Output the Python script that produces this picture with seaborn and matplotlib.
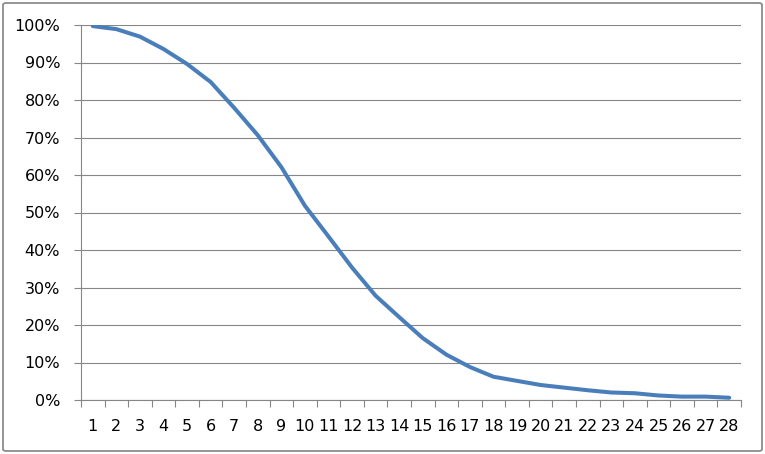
import matplotlib
matplotlib.use("Agg")
import matplotlib.pyplot as plt
from matplotlib.patches import FancyBboxPatch
from matplotlib.ticker import FixedLocator, PercentFormatter
import seaborn as sns
import pandas as pd

# values (share in %)
positions = list(range(1, 29))
share = [99.7, 98.9, 96.9, 93.6, 89.6, 84.8, 77.9, 70.6, 62.1, 51.8,
         43.6, 35.3, 27.8, 22.1, 16.5, 12.1, 8.8, 6.2, 5.1, 4.0,
         3.3, 2.6, 2.0, 1.8, 1.2, 0.9, 0.9, 0.6]

df = pd.DataFrame({"pos": positions, "share": share})

sns.set_style("white")
plt.rcParams["font.family"] = ["DejaVu Sans"]

fig = plt.figure(figsize=(7.65, 4.54), dpi=100)
ax = fig.add_axes([81 / 765, 1 - 400 / 454, 660 / 765, 375 / 454])

grid_c = "#868686"
sns.lineplot(data=df, x="pos", y="share", ax=ax, color="#4A7EBB",
             linewidth=2.9, solid_joinstyle="round", solid_capstyle="round")

ax.set_xlim(0.5, 28.5)
ax.set_ylim(0, 100)
ax.set_yticks(range(0, 101, 10))
ax.yaxis.set_major_formatter(PercentFormatter(decimals=0))
ax.set_xticks(positions)
ax.set_xticklabels([str(p) for p in positions])
ax.xaxis.set_minor_locator(FixedLocator([p + 0.5 for p in range(0, 29)]))
ax.set_xlabel("")
ax.set_ylabel("")

ax.grid(axis="y", color=grid_c, linewidth=0.8)
ax.set_axisbelow(True)
for side in ["top", "right"]:
    ax.spines[side].set_visible(False)
for side in ["left", "bottom"]:
    ax.spines[side].set_color(grid_c)
    ax.spines[side].set_linewidth(0.8)

ax.tick_params(axis="y", which="major", left=True, length=5, width=0.8,
               color=grid_c, pad=10, labelsize=11.5, labelcolor="black")
ax.tick_params(axis="x", which="major", bottom=True, length=0, pad=14,
               labelsize=11.5, labelcolor="black")
ax.tick_params(axis="x", which="minor", bottom=True, length=5, width=0.8,
               color=grid_c)

# outer chart frame
frame = FancyBboxPatch((3 / 765, 3 / 454), 759 / 765, 448 / 454,
                       boxstyle="round,pad=0,rounding_size=0.004",
                       transform=fig.transFigure, fill=False,
                       edgecolor="#8c8c8c", linewidth=1.3)
fig.patches.append(frame)

fig.savefig("out.png", dpi=100)
